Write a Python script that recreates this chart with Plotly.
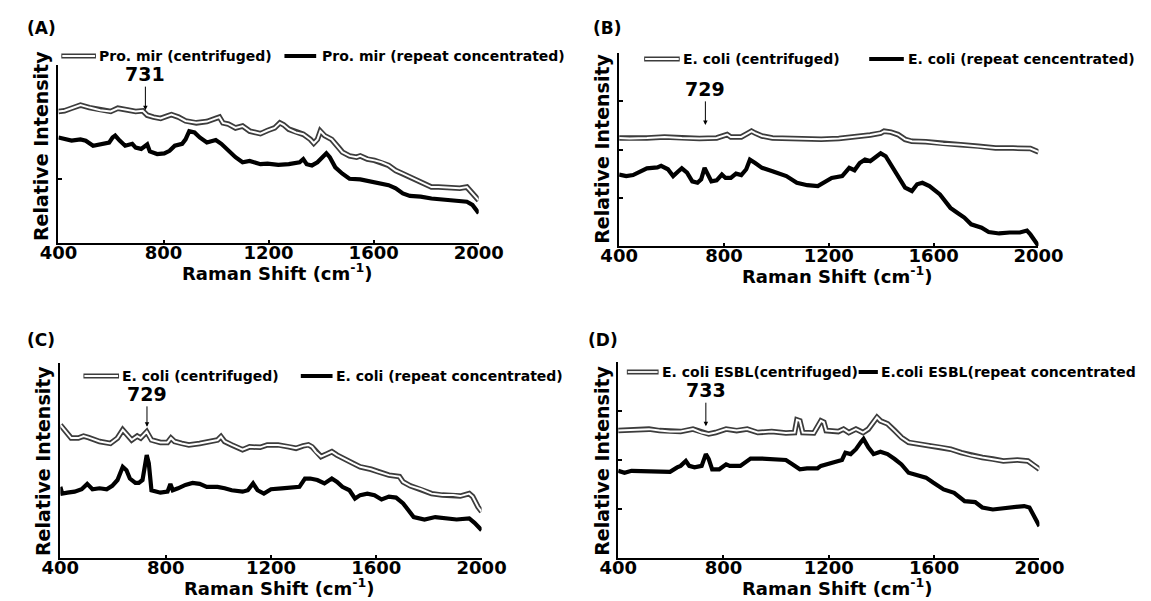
import plotly.graph_objects as go

# ---------------- data (Raman shift in cm-1, relative intensity in a.u.) ----------------
a_cent_x = [400,423,450,484,518,559,599,626,654,694,721,738,762,789,816,830,857,884,925,965,
            999,1013,1026,1047,1074,1101,1128,1169,1196,1223,1243,1257,1277,1304,1332,1359,1372,
            1386,1397,1413,1440,1467,1481,1508,1535,1549,1576,1603,1630,1657,1684,1711,1738,1766,
            1793,1820,1847,1874,1901,1928,1955,1976,2000]
a_cent_y = [2.07,2.08,2.12,2.17,2.13,2.09,2.07,2.12,2.10,2.07,2.08,2.01,1.98,1.96,2.00,2.02,1.98,
            1.92,1.89,1.91,1.96,1.98,1.89,1.87,1.81,1.84,1.76,1.72,1.77,1.81,1.89,1.86,1.79,1.74,
            1.71,1.63,1.57,1.63,1.76,1.69,1.63,1.50,1.43,1.37,1.35,1.37,1.32,1.30,1.27,1.22,1.14,
            1.09,1.04,0.99,0.93,0.88,0.88,0.87,0.87,0.86,0.88,0.78,0.67]
a_conc_x = [400,423,450,484,504,532,572,593,606,616,633,654,681,694,715,728,738,748,776,803,823,
            843,871,884,898,918,938,965,986,999,1020,1047,1074,1101,1128,1169,1196,1237,1277,1318,
            1332,1345,1365,1386,1406,1420,1433,1454,1481,1508,1549,1603,1657,1684,1711,1738,1779,
            1820,1874,1928,1955,1976,2000]
a_conc_y = [1.66,1.63,1.61,1.63,1.61,1.53,1.56,1.58,1.66,1.69,1.61,1.53,1.56,1.50,1.48,1.53,1.55,
            1.44,1.40,1.41,1.45,1.53,1.56,1.63,1.76,1.74,1.66,1.58,1.61,1.62,1.56,1.45,1.35,1.27,
            1.29,1.24,1.25,1.23,1.24,1.27,1.32,1.24,1.22,1.27,1.35,1.41,1.35,1.19,1.09,1.01,1.00,
            0.96,0.91,0.86,0.78,0.74,0.73,0.70,0.68,0.66,0.65,0.60,0.47]

b_cent_x = [400,440,506,573,639,706,772,799,812,826,866,892,905,919,945,985,1038,1105,1171,1238,
            1304,1358,1398,1411,1437,1464,1491,1517,1570,1637,1703,1770,1836,1903,1969,2000]
b_cent_y = [2.24,2.23,2.24,2.26,2.24,2.23,2.24,2.28,2.31,2.26,2.26,2.34,2.38,2.34,2.28,2.24,2.23,
            2.21,2.21,2.23,2.26,2.30,2.34,2.38,2.36,2.31,2.21,2.17,2.16,2.12,2.10,2.07,2.03,2.03,
            2.02,1.95]
b_conc_x = [400,427,453,480,506,546,560,586,606,626,639,659,679,699,713,726,739,752,772,792,806,
            826,846,866,885,899,919,945,985,1038,1078,1118,1158,1185,1211,1251,1278,1298,1318,1338,
            1358,1378,1398,1417,1437,1464,1491,1517,1537,1557,1584,1624,1664,1690,1717,1743,1783,
            1810,1850,1890,1929,1956,1969,2000]
b_conc_y = [1.48,1.45,1.47,1.55,1.61,1.63,1.66,1.59,1.45,1.55,1.61,1.52,1.34,1.31,1.38,1.62,1.48,
            1.34,1.36,1.48,1.41,1.41,1.50,1.47,1.59,1.79,1.72,1.62,1.55,1.45,1.31,1.26,1.24,1.34,
            1.41,1.45,1.62,1.57,1.72,1.79,1.76,1.84,1.92,1.86,1.69,1.45,1.21,1.14,1.28,1.31,1.24,
            1.07,0.79,0.69,0.59,0.45,0.38,0.29,0.26,0.28,0.28,0.32,0.24,0.0]

c_cent_x = [400,411,420,441,468,488,508,549,590,617,637,658,671,692,705,728,746,780,807,820,834,
            861,888,929,970,997,1010,1024,1051,1092,1119,1159,1186,1227,1268,1295,1322,1342,1356,
            1370,1390,1410,1431,1451,1485,1512,1539,1580,1607,1648,1688,1702,1729,1770,1810,1851,
            1892,1919,1953,1966,1986,2000]
c_cent_y = [2.73,2.66,2.59,2.46,2.46,2.50,2.47,2.39,2.35,2.46,2.63,2.49,2.42,2.50,2.46,2.59,2.42,
            2.37,2.37,2.46,2.39,2.35,2.32,2.35,2.39,2.42,2.49,2.39,2.32,2.22,2.28,2.27,2.32,2.32,
            2.28,2.25,2.30,2.32,2.28,2.18,2.08,2.13,2.18,2.11,2.01,1.94,1.87,1.82,1.77,1.70,1.67,
            1.56,1.48,1.41,1.32,1.29,1.29,1.27,1.32,1.26,1.05,0.95]
c_conc_x = [400,407,427,454,481,502,522,549,576,597,617,637,651,664,685,698,712,723,728,736,746,
            780,807,818,827,847,875,902,929,956,997,1024,1051,1092,1112,1132,1149,1173,1200,1241,
            1281,1308,1329,1349,1376,1403,1431,1451,1471,1498,1519,1539,1566,1593,1620,1648,1675,
            1702,1742,1783,1824,1864,1905,1953,1973,2000]
c_conc_y = [1.46,1.32,1.34,1.36,1.41,1.52,1.41,1.43,1.41,1.48,1.60,1.87,1.80,1.63,1.54,1.54,1.60,
            1.94,2.11,1.94,1.39,1.34,1.36,1.52,1.39,1.43,1.50,1.54,1.52,1.46,1.46,1.43,1.39,1.36,
            1.39,1.53,1.39,1.32,1.41,1.43,1.46,1.46,1.63,1.63,1.60,1.53,1.63,1.56,1.46,1.39,1.22,
            1.29,1.32,1.29,1.20,1.26,1.24,1.12,0.84,0.79,0.84,0.81,0.79,0.81,0.72,0.57]

d_cent_x = [400,437,477,517,557,597,637,684,717,744,770,810,850,890,930,983,1037,1070,1079,1090,
            1101,1143,1170,1181,1190,1236,1256,1276,1303,1330,1350,1370,1383,1396,1423,1450,1476,
            1503,1543,1583,1623,1663,1703,1743,1783,1823,1863,1916,1956,1982,2000]
d_cent_y = [2.60,2.61,2.63,2.63,2.60,2.58,2.58,2.63,2.56,2.53,2.56,2.63,2.60,2.63,2.56,2.58,2.55,
            2.56,2.82,2.80,2.56,2.55,2.80,2.77,2.60,2.58,2.63,2.56,2.63,2.56,2.63,2.77,2.87,2.80,
            2.74,2.60,2.46,2.36,2.32,2.29,2.26,2.22,2.15,2.09,2.05,2.02,1.98,2.00,1.98,1.88,1.81]
d_conc_x = [400,424,451,504,557,597,624,637,657,670,690,717,733,744,757,784,810,824,864,890,903,
            943,983,1037,1063,1090,1117,1157,1170,1197,1223,1250,1263,1283,1303,1323,1332,1350,1370,
            1396,1423,1450,1476,1503,1543,1569,1596,1636,1676,1716,1756,1783,1823,1863,1902,1942,
            1962,1982,2000]
d_conc_y = [1.78,1.74,1.78,1.78,1.78,1.76,1.85,1.88,1.98,1.88,1.85,1.88,2.12,2.02,1.81,1.81,1.91,
            1.88,1.88,1.98,2.03,2.03,2.02,2.00,1.91,1.81,1.83,1.83,1.88,1.91,1.96,2.00,2.15,2.12,
            2.22,2.37,2.43,2.26,2.12,2.17,2.12,2.02,1.91,1.74,1.69,1.64,1.54,1.40,1.33,1.16,1.14,
            1.03,0.99,1.01,1.03,1.06,1.03,0.82,0.65]

panel_labels = ["(A)", "(B)", "(C)", "(D)"]
cent_names = ["Pro. mir (centrifuged)", "E. coli (centrifuged)", "E. coli (centrifuged)",
              "E. coli ESBL(centrifuged)"]
conc_names = ["Pro. mir (repeat concentrated)", "E. coli (repeat cencentrated)",
              "E. coli (repeat concentrated)", "E.coli ESBL(repeat concentrated"]
peak_pos = [731, 729, 729, 733]
peak_tip = [2.09, 2.51, 2.69, 2.69]
y_ranges = [[0, 2.8], [0, 4], [0, 4], [0, 4]]
y_ticks = [[1], [1, 2, 3, 4], [4], [1, 2, 3, 4]]
x_ticks = [400, 800, 1200, 1600, 2000]
x_title = "Raman Shift (cm<sup>-1</sup>)"
y_title = "Relative Intensity"

cents = [(a_cent_x, a_cent_y), (b_cent_x, b_cent_y), (c_cent_x, c_cent_y), (d_cent_x, d_cent_y)]
concs = [(a_conc_x, a_conc_y), (b_conc_x, b_conc_y), (c_conc_x, c_conc_y), (d_conc_x, d_conc_y)]

# ---------------- layout geometry (pixels) ----------------
W, H = 1151, 601
def fx(p):
    return p / W
def fy(p):
    return 1 - p / H

# left, right, top, bottom of each plot area
boxes = [(41, 478, 65, 243), (624, 1060, 53, 246), (43, 481, 363, 558), (623, 1061, 362, 558)]
label_pos = [(23, 28), (612, 28), (23, 340), (607, 340)]
legend_geo = [  # y, sample1 x0,x1, text1 x, sample2 x0,x1, text2 x
    (56, 44, 80, 81, 276, 309, 313),
    (59, 650, 687, 688, 884, 920, 922),
    (376, 67, 104, 105, 293, 326, 328),
    (372, 632, 665, 666, 873, 893, 894),
]
peak_ay = [-36, -36, -33, -36]
ytitle_x = [23, 606, 25, 606]
xtitle_dx = 9

FONT = "DejaVu Sans"
CENT_EDGE = "#3c3c3c"
fig = go.Figure()
annotations = []
shapes = []

for i in range(4):
    n = "" if i == 0 else str(i + 1)
    xa, ya = "x" + n, "y" + n
    L, R, T, B = boxes[i]
    cx, cy = cents[i]
    kx, ky = concs[i]
    fig.add_trace(go.Scatter(x=cx, y=cy, mode="lines", xaxis=xa, yaxis=ya, showlegend=False,
                             line=dict(color=CENT_EDGE, width=5.5), hoverinfo="skip"))
    fig.add_trace(go.Scatter(x=cx, y=cy, mode="lines", xaxis=xa, yaxis=ya, showlegend=False,
                             line=dict(color="white", width=2), name=cent_names[i]))
    fig.add_trace(go.Scatter(x=kx, y=ky, mode="lines", xaxis=xa, yaxis=ya, showlegend=False,
                             line=dict(color="black", width=4.2), name=conc_names[i]))

    fig.update_layout(**{
        "xaxis" + n: dict(domain=[fx(L), fx(R)], range=[400, 2000], anchor=ya,
                          tickvals=x_ticks, ticks="inside", ticklen=3, tickwidth=1.5,
                          tickcolor="black", showline=True, linecolor="black", linewidth=2,
                          showgrid=False, zeroline=False, ticklabelstandoff=-8,
                          tickfont=dict(family=FONT, size=18, color="black", weight="bold")),
        "yaxis" + n: dict(domain=[fy(B), fy(T)], range=y_ranges[i], anchor=xa,
                          tickvals=y_ticks[i], ticks="inside", ticklen=4, tickwidth=1.5,
                          tickcolor="black", showticklabels=False, showline=True,
                          linecolor="black", linewidth=2, showgrid=False, zeroline=False),
    })

    # panel label
    lx, ly = label_pos[i]
    annotations.append(dict(text=panel_labels[i], x=fx(lx), y=fy(ly), xref="paper", yref="paper",
                            showarrow=False, xanchor="center", yanchor="middle",
                            font=dict(family=FONT, size=17, color="black", weight="bold")))
    # axis titles
    annotations.append(dict(text=x_title, x=fx((L + R) / 2 + xtitle_dx), y=fy(B + 29),
                            xref="paper", yref="paper", showarrow=False,
                            xanchor="center", yanchor="middle",
                            font=dict(family=FONT, size=18, color="black", weight="bold")))
    annotations.append(dict(text=y_title, x=fx(ytitle_x[i]), y=fy(B), xref="paper", yref="paper",
                            showarrow=False, textangle=-90, xanchor="center", yanchor="bottom",
                            font=dict(family=FONT, size=19, color="black", weight="bold")))
    # peak annotation
    annotations.append(dict(text=str(peak_pos[i]), x=peak_pos[i], y=peak_tip[i], xref=xa, yref=ya,
                            showarrow=True, arrowhead=2, arrowsize=0.9, arrowwidth=1,
                            arrowcolor="black", ax=0, ay=peak_ay[i],
                            font=dict(family=FONT, size=19, color="black", weight="bold")))
    # legend
    gy, s1a, s1b, t1, s2a, s2b, t2 = legend_geo[i]
    shapes.append(dict(type="line", xref="paper", yref="paper", x0=fx(s1a), x1=fx(s1b),
                       y0=fy(gy), y1=fy(gy), line=dict(color=CENT_EDGE, width=5)))
    shapes.append(dict(type="line", xref="paper", yref="paper", x0=fx(s1a + 1), x1=fx(s1b - 1),
                       y0=fy(gy), y1=fy(gy), line=dict(color="white", width=1.8)))
    shapes.append(dict(type="line", xref="paper", yref="paper", x0=fx(s2a), x1=fx(s2b),
                       y0=fy(gy), y1=fy(gy), line=dict(color="black", width=4)))
    annotations.append(dict(text=cent_names[i], x=fx(t1), y=fy(gy), xref="paper", yref="paper",
                            showarrow=False, xanchor="left", yanchor="middle",
                            font=dict(family=FONT, size=14, color="black", weight="bold")))
    annotations.append(dict(text=conc_names[i], x=fx(t2), y=fy(gy), xref="paper", yref="paper",
                            showarrow=False, xanchor="left", yanchor="middle",
                            font=dict(family=FONT, size=14, color="black", weight="bold")))

fig.update_layout(width=W, height=H, margin=dict(l=0, r=0, t=0, b=0),
                  paper_bgcolor="white", plot_bgcolor="white",
                  annotations=annotations, shapes=shapes, showlegend=False)

fig.write_html("out.html", config={"displayModeBar": False},
               post_script="document.body.style.margin='0';document.body.style.overflow='hidden';")
